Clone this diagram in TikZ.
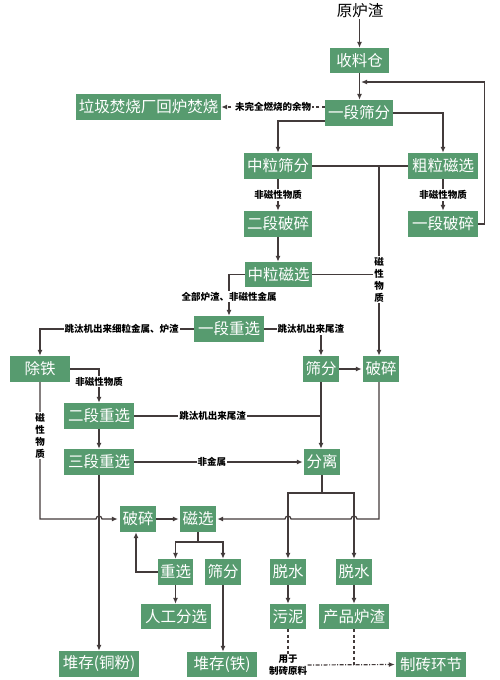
\documentclass[tikz,border=0pt]{standalone}
\usepackage{fontspec}
\newfontfamily\cjk{Noto Sans CJK SC}
\usetikzlibrary{arrows.meta,calc}
\definecolor{boxgreen}{HTML}{579B6F}
\definecolor{lncol}{HTML}{433B3B}
\begin{document}
\begin{tikzpicture}[x=1pt,y=-1pt,
  box/.style={fill=boxgreen,text=white,font=\cjk\fontsize{15.5}{15.5}\selectfont,minimum height=26pt,inner sep=0pt,minimum width=#1pt},
  box/.default=36,
  lab/.style={font=\cjk\bfseries\fontsize{9.5}{12}\selectfont,fill=white,inner sep=1pt,text=black,align=center},
  conn/.style={draw=lncol,line width=1.2pt},
  arr/.style={conn,-{Latex[length=6pt,width=5pt]}},
  dsh/.style={conn,dash pattern=on 3pt off 2.5pt},
]
\useasboundingbox (0,0) rectangle (500,680);
% nodes
\node[font=\cjk\fontsize{15.5}{15.5}\selectfont,inner sep=1pt] (top) at (360,11) {原炉渣};
\node[box=59,minimum height=25pt] (sl) at (359.5,60.5) {收料仓};
\node[box=68] (ydsf) at (359,113) {一段筛分};
\node[box=145] (ljfs) at (148.5,107) {垃圾焚烧厂回炉焚烧};
\node[box=68] (zlsf) at (278,166) {中粒筛分};
\node[box=70] (clcx) at (443,166) {粗粒磁选};
\node[box=68] (edps) at (278,224) {二段破碎};
\node[box=70] (ydps) at (443,224) {一段破碎};
\node[box=67,minimum height=25pt] (zlcx) at (278.5,274.5) {中粒磁选};
\node[box=70] (ydzx) at (229,329) {一段重选};
\node[box=60] (ct) at (40,369) {除铁};
\node[box] (sf) at (321,369) {筛分};
\node[box] (psa) at (381,369) {破碎};
\node[box=70] (edzx) at (99,416) {二段重选};
\node[box=70] (sdzx) at (99,462) {三段重选};
\node[box] (fl) at (322,462) {分离};
\node[box] (psb) at (138,519) {破碎};
\node[box] (cx) at (198,519) {磁选};
\node[box=35] (zx) at (175.5,572) {重选};
\node[box] (sfb) at (223,572) {筛分};
\node[box] (tsa) at (288,572) {脱水};
\node[box] (tsb) at (354,572) {脱水};
\node[box=70,minimum height=25pt] (rg) at (176,616.5) {人工分选};
\node[box,minimum height=25pt] (wn) at (288,616.5) {污泥};
\node[box=70,minimum height=25pt] (cplz) at (354,616.5) {产品炉渣};
\node[box=80] (dctf) at (99,664) {堆存(铜粉)};
\node[box=70,minimum height=25pt] (dct) at (222,664.5) {堆存(铁)};
\node[box=70,minimum height=25pt] (zz) at (431,664.5) {制砖环节};
\coordinate (fb) at (361,82);
\coordinate (ja) at (379,166);
\coordinate (fj) at (322,493);
\coordinate (cj) at (198,542);

% connectors
\draw[arr] (top.south -| sl.north) -- (sl.north);
\draw[arr] (sl.south) -- (sl.south |- ydsf.north);
\draw[arr] (ydps.east) -- ++(6,0) |- (fb);
\draw[conn,dash pattern=on 3pt off 2.5pt,-{Latex[length=6pt,width=5pt]}] (ydsf.west |- ljfs.east) -- (ljfs.east)
  node[lab,midway]{未完全燃烧的余物};
\draw[arr] ([yshift=-8pt]ydsf.west) -| (zlsf.north);
\draw[arr] (ydsf.east) -| (clcx.north);
\draw[conn] (zlsf.east) -- (clcx.west);
\draw[conn] (zlcx.east) -- (zlcx.east -| ja);
\draw[arr] (ja) -- (ja |- psa.north)
  node[lab,pos=0.6]{磁\\性\\物\\质};
\draw[arr] (zlsf.south) -- (edps.north) node[lab,midway]{非磁性物质};
\draw[arr] (clcx.south) -- (ydps.north) node[lab,midway]{非磁性物质};
\draw[arr] (edps.south) -- (edps.south |- zlcx.north);
\draw[arr] (zlcx.west) -| (ydzx.north) node[lab,pos=0.77]{全部炉渣、非磁性金属};
\draw[arr] (ydzx.west) -| (ct.north) node[lab,pos=0.235]{跳汰机出来细粒金属、炉渣};
\draw[arr] (ydzx.east) -| (sf.north) node[lab,pos=0.41]{跳汰机出来尾渣};
\draw[arr] (sf.east) -- ([xshift=-1pt]psa.west);
\draw[arr] (ct.east) -| (edzx.north) node[lab,pos=0.69]{非磁性物质};
\draw[arr] (ct.south) -- node[lab,pos=0.39]{磁\\性\\物\\质} (ct.south |- psb.west)
  -- ($(sdzx.south |- psb.west)+(-3,0)$) arc[start angle=180,end angle=0,radius=3pt]
  -- ([xshift=-2pt]psb.west);
\draw[conn] (edzx.east) -- (edzx.east -| sf.south) node[lab,pos=0.42]{跳汰机出来尾渣};
\draw[arr] (edzx.south) -- (sdzx.north);
\draw[arr] (sdzx.east) -- ([xshift=-1pt]fl.west) node[lab,pos=0.46]{非金属};
\draw[arr] (sf.south) -- (sf.south |- fl.north);
\draw[arr] (sdzx.south) -- (dctf.north);
\draw[conn] (fl.south) -- (fj);
\draw[arr] (fj) -| (tsa.north);
\draw[arr] (fj) -| (tsb.north);
\draw[arr] (ja |- psa.south) -- (ja |- cx.east)
  -- ($(tsb.north |- cx.east)+(3,0)$) arc[start angle=0,end angle=180,radius=3pt]
  -- ($(tsa.north |- cx.east)+(3,0)$) arc[start angle=0,end angle=180,radius=3pt]
  -- ([xshift=1pt]cx.east);
\draw[arr] (psb.east) -- ([xshift=-1pt]cx.west);
\draw[conn] (cx.south) -- (cj);
\draw[arr] (cj) -| (zx.north);
\draw[arr] (cj) -| (sfb.north);
\draw[arr] (zx.west) -| ([xshift=-2pt]psb.south);
\draw[arr] (zx.south) -- (zx.south |- rg.north);
\draw[arr] (sfb.south) -- (sfb.south |- dct.north);
\draw[arr] (tsa.south) -- (wn.north);
\draw[arr] (tsb.south) -- (cplz.north);
\node[lab,inner sep=0.5pt] (yt) at (288,665) {用于\\制砖原料};
\draw[dsh] (wn.south) -- (yt.north);
\draw[dsh,dash pattern=on 4pt off 1.5pt on 1pt off 1.5pt,-{Latex[length=6pt,width=5pt]}] (yt.east) -- ([xshift=-1pt]zz.west);
\draw[dsh] (cplz.south) -- (cplz.south |- zz.west);
\end{tikzpicture}
\end{document}
